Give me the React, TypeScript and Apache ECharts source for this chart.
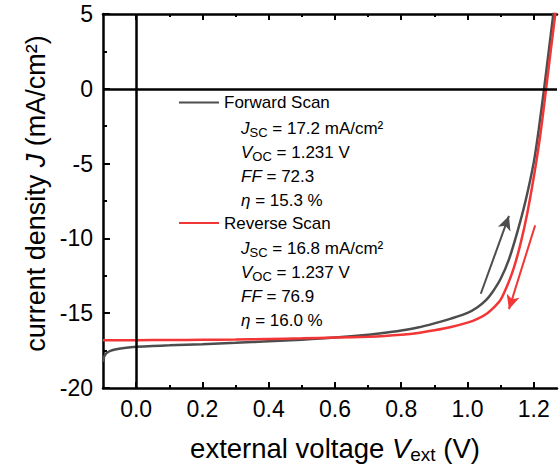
import React, { useEffect, useRef } from "react";
import * as echarts from "echarts";

// J–V scan data: external voltage (V) and current density (mA/cm²)
const forwardV = [
  -0.1, -0.098, -0.094, -0.088, -0.078, -0.06, -0.03, 0, 0.05, 0.1, 0.2, 0.3, 0.4, 0.5, 0.6, 0.7, 0.75, 0.8,
  0.85, 0.9, 0.95, 1.0, 1.03, 1.055, 1.075, 1.1, 1.125, 1.15, 1.175, 1.2, 1.215, 1.231, 1.245, 1.26,
];
const forwardJ = [
  -18.25, -18.0, -17.8, -17.65, -17.52, -17.41, -17.31, -17.25, -17.19, -17.15, -17.07, -16.98, -16.88, -16.77,
  -16.63, -16.44, -16.31, -16.16, -15.96, -15.68, -15.36, -14.98, -14.6, -14.15, -13.6, -12.7, -11.4, -9.6,
  -7.5, -4.9, -2.7, 0, 2.5, 5.2,
];
const reverseV = [
  -0.1, 0, 0.1, 0.2, 0.3, 0.4, 0.5, 0.6, 0.7, 0.75, 0.8, 0.85, 0.9, 0.95, 1.0, 1.03, 1.06, 1.085, 1.1, 1.12,
  1.14, 1.16, 1.18, 1.2, 1.215, 1.226, 1.237, 1.252, 1.266,
];
const reverseJ = [
  -16.8, -16.8, -16.79, -16.78, -16.76, -16.72, -16.68, -16.63, -16.57, -16.52, -16.44, -16.32, -16.14, -15.92,
  -15.63, -15.38, -15.0, -14.5, -14.1, -13.15, -11.95, -10.35, -8.35, -5.9, -3.8, -2.0, 0, 2.7, 5.2,
];

// Scan direction arrows: [start, end] in (V, J)
const forwardArrow = [
  [1.04, -13.7],
  [1.125, -8.5],
];
const reverseArrow = [
  [1.204, -9.13],
  [1.125, -14.73],
];

// Photovoltaic parameters per scan
const forwardStats = { jsc: "17.2", voc: "1.231", ff: "72.3", eta: "15.3" };
const reverseStats = { jsc: "16.8", voc: "1.237", ff: "76.9", eta: "16.0" };

// Axis ticks
const xMajorTicks = [0, 0.2, 0.4, 0.6, 0.8, 1.0, 1.2];
const xMinorTicks = [0.1, 0.3, 0.5, 0.7, 0.9, 1.1];

const FONT = "Liberation Sans";
const GRAY = "#4d4d4d";
const RED = "#f23535";
const BLACK = "#000";

const zip = (xs: number[], ys: number[]) => xs.map((x, i) => [x, ys[i]]);

const arrowLine = (pts: number[][], color: string) => ({
  silent: true,
  symbol: ["none", "arrow"],
  symbolSize: [10, 14],
  label: { show: false },
  lineStyle: { color, width: 2, type: "solid" },
  data: [[{ coord: pts[0] }, { coord: pts[1] }]],
});

const statTexts = (s: typeof forwardStats, firstY: number) => {
  const lines = [
    `{i|J}{sub|SC} = ${s.jsc} mA/cm²`,
    `{i|V}{sub|OC} = ${s.voc} V`,
    `{i|FF} = ${s.ff}`,
    `{i|η} = ${s.eta} %`,
  ];
  return lines.map((text, k) => ({
    type: "text",
    x: 241,
    y: firstY + k * 24.3,
    silent: true,
    style: {
      text,
      fill: BLACK,
      fontSize: 17,
      fontFamily: FONT,
      lineHeight: 22,
      verticalAlign: "middle",
      rich: {
        i: { fontStyle: "italic", fontSize: 17, fontFamily: FONT, lineHeight: 22 },
        sub: { fontSize: 13, fontFamily: FONT, verticalAlign: "bottom", lineHeight: 10 },
      },
    },
  }));
};

const axisLineStyle = { color: BLACK, width: 2.5 };

const legendBase = {
  left: 178,
  padding: 0,
  itemWidth: 40,
  itemHeight: 17,
  selectedMode: false,
  itemStyle: { color: "rgba(0,0,0,0)", borderColor: "rgba(0,0,0,0)", borderWidth: 0 },
  textStyle: { fontSize: 17, color: BLACK, fontFamily: FONT },
};

export default function App() {
  const ref = useRef<HTMLDivElement>(null);

  useEffect(() => {
    if (!ref.current) return;
    const chart = echarts.init(ref.current, null, { renderer: "svg" });

    const xBase = {
      type: "value",
      min: -0.1,
      max: 1.27,
      splitLine: { show: false },
    };

    chart.setOption({
      animation: false,
      textStyle: { fontFamily: FONT },
      grid: { left: 103, right: 3, top: 14, bottom: 81, containLabel: false },
      legend: [
        { ...legendBase, data: ["Forward Scan"], top: 94 },
        { ...legendBase, data: ["Reverse Scan"], top: 214.5 },
      ],
      xAxis: [
        {
          ...xBase,
          position: "bottom",
          axisLine: { onZero: false, lineStyle: axisLineStyle },
          axisTick: { inside: true, length: 6, customValues: xMajorTicks, lineStyle: { color: BLACK, width: 2 } },
          axisLabel: {
            customValues: xMajorTicks,
            formatter: (v: number) => v.toFixed(1),
            fontSize: 23,
            color: BLACK,
            fontFamily: FONT,
            margin: 9,
          },
          name: "external voltage {i|V}{sub|ext} (V)",
          nameLocation: "middle",
          nameGap: 44,
          nameMoveOverlap: false,
          nameTextStyle: {
            fontSize: 27.5,
            color: BLACK,
            fontFamily: FONT,
            lineHeight: 32,
            padding: [0, 0, 0, 10],
            rich: {
              i: { fontStyle: "italic", fontSize: 27.5, fontFamily: FONT, lineHeight: 32, color: BLACK },
              sub: { fontSize: 19, fontFamily: FONT, verticalAlign: "bottom", lineHeight: 14, color: BLACK },
            },
          },
        },
        {
          ...xBase,
          position: "bottom",
          axisLine: { show: false, onZero: false },
          axisTick: { inside: true, length: 3, customValues: xMinorTicks, lineStyle: { color: BLACK, width: 2 } },
          axisLabel: { show: false },
        },
        {
          ...xBase,
          position: "top",
          axisLine: { onZero: false, lineStyle: axisLineStyle },
          axisTick: { inside: true, length: 6, customValues: xMajorTicks, lineStyle: { color: BLACK, width: 2 } },
          axisLabel: { show: false },
        },
        {
          ...xBase,
          position: "top",
          axisLine: { show: false, onZero: false },
          axisTick: { inside: true, length: 3, customValues: xMinorTicks, lineStyle: { color: BLACK, width: 2 } },
          axisLabel: { show: false },
        },
      ],
      yAxis: [
        {
          type: "value",
          position: "left",
          min: -20,
          max: 5,
          interval: 5,
          splitLine: { show: false },
          axisLine: { onZero: false, lineStyle: axisLineStyle },
          axisTick: { inside: true, length: 7, lineStyle: { color: BLACK, width: 2 } },
          minorTick: { show: true, splitNumber: 2, length: 4, lineStyle: { color: BLACK, width: 2 } },
          axisLabel: { fontSize: 23, color: BLACK, fontFamily: FONT, margin: 10 },
          name: "current density {i|J} (mA/cm²)",
          nameLocation: "middle",
          nameGap: 54,
          nameMoveOverlap: false,
          nameTextStyle: {
            fontSize: 27,
            color: BLACK,
            fontFamily: FONT,
            padding: [0, 0, 0, 15],
            rich: {
              i: { fontStyle: "italic", fontSize: 27, fontFamily: FONT, color: BLACK },
            },
          },
        },
      ],
      series: [
        {
          name: "zero",
          type: "line",
          data: [],
          silent: true,
          markLine: {
            silent: true,
            symbol: "none",
            label: { show: false },
            lineStyle: { color: BLACK, width: 2.5, type: "solid" },
            data: [{ xAxis: 0 }, { yAxis: 0 }],
          },
        },
        {
          name: "Forward Scan",
          type: "line",
          data: zip(forwardV, forwardJ),
          showSymbol: false,
          symbol: "none",
          smooth: 0.3,
          lineStyle: { color: GRAY, width: 2.5 },
          itemStyle: { color: GRAY },
          markLine: arrowLine(forwardArrow, GRAY),
        },
        {
          name: "Reverse Scan",
          type: "line",
          data: zip(reverseV, reverseJ),
          showSymbol: false,
          symbol: "none",
          smooth: 0.3,
          lineStyle: { color: RED, width: 2.5 },
          itemStyle: { color: RED },
          markLine: arrowLine(reverseArrow, RED),
        },
      ],
      graphic: [...statTexts(forwardStats, 128), ...statTexts(reverseStats, 248)],
    });

    return () => chart.dispose();
  }, []);

  return <div ref={ref} style={{ position: "absolute", left: 0, top: 0, width: 560, height: 469 }} />;
}
